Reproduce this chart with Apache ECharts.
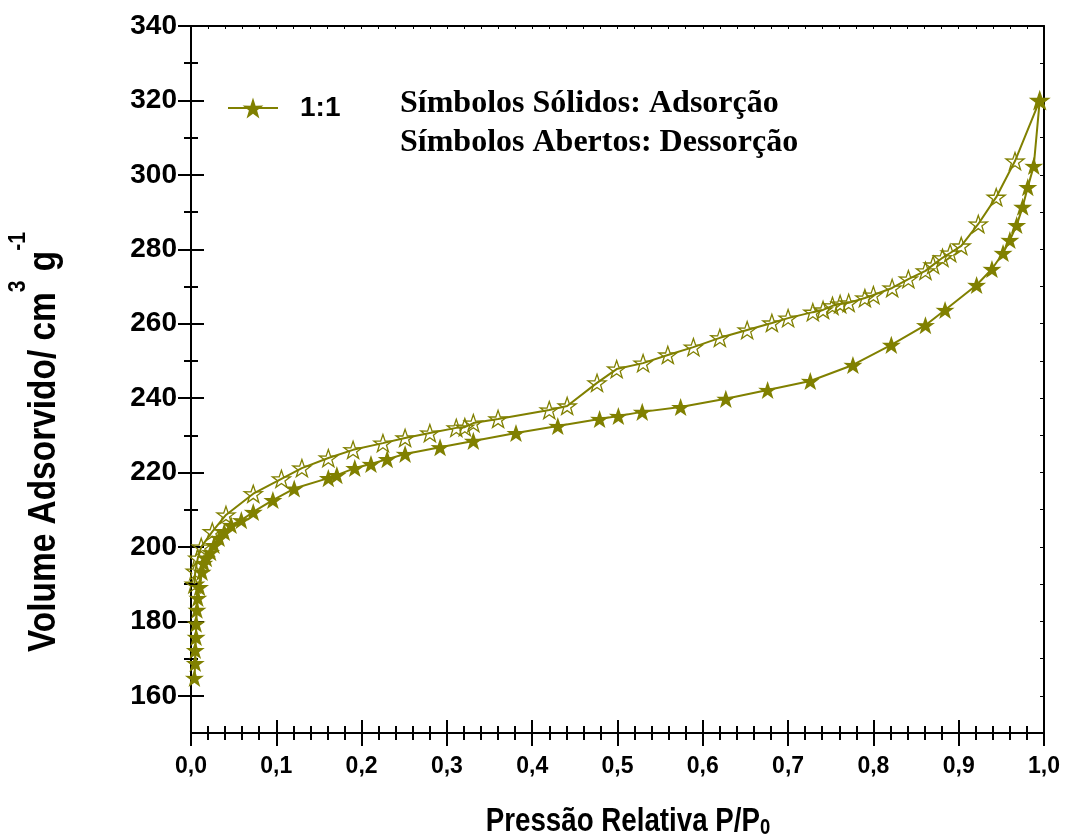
<!DOCTYPE html>
<html>
<head>
<meta charset="utf-8">
<script src="https://cdn.jsdelivr.net/npm/echarts@6/dist/echarts.min.js"></script>
<style>
  html, body { margin: 0; padding: 0; background: #fff; }
  #chart { width: 1066px; height: 837px; }
</style>
</head>
<body>
<div id="chart"></div>
<script>
// Adsorption branch (relative pressure P/P0, adsorbed volume cm3/g)
const adsP = [0.004, 0.005, 0.005, 0.006, 0.006, 0.007, 0.008, 0.010, 0.013, 0.015,
              0.018, 0.023, 0.027, 0.033, 0.039, 0.047, 0.059, 0.073, 0.096, 0.121,
              0.161, 0.171, 0.192, 0.211, 0.230, 0.251, 0.292, 0.331, 0.381, 0.430,
              0.479, 0.501, 0.529, 0.574, 0.627, 0.676, 0.726, 0.776, 0.821, 0.861,
              0.884, 0.921, 0.939, 0.952, 0.960, 0.968, 0.975, 0.981, 0.988, 0.995];
const adsV = [164.8, 168.8, 172.3, 175.8, 179.4, 183.1, 186.3, 189.2, 193.3, 195.7,
              197.0, 198.6, 200.5, 202.4, 204.0, 205.9, 207.2, 209.4, 212.6, 215.7,
              218.5, 219.3, 221.2, 222.3, 223.6, 225.0, 226.8, 228.5, 230.6, 232.5,
              234.4, 235.2, 236.3, 237.6, 239.8, 242.2, 244.6, 248.9, 254.3, 259.6,
              263.7, 270.4, 274.7, 279.0, 282.5, 286.5, 291.4, 296.7, 302.4, 320.0];

// Desorption branch, in measurement order (high to low pressure)
const desP = [0.995, 0.966, 0.944, 0.923, 0.903, 0.890, 0.881, 0.870, 0.861, 0.841,
              0.822, 0.800, 0.790, 0.771, 0.761, 0.752, 0.741, 0.729, 0.700, 0.681,
              0.652, 0.620, 0.589, 0.559, 0.530, 0.499, 0.476, 0.441, 0.420, 0.360,
              0.331, 0.321, 0.311, 0.280, 0.251, 0.225, 0.190, 0.161, 0.130, 0.106,
              0.073, 0.041, 0.025, 0.012, 0.008, 0.005, 0.004];
const desV = [320.0, 303.7, 294.0, 286.8, 280.9, 279.0, 277.7, 275.8, 274.2, 272.0,
              269.6, 267.7, 266.9, 265.6, 265.3, 264.8, 263.7, 263.1, 261.5, 260.2,
              258.3, 256.2, 253.7, 251.6, 249.4, 247.8, 244.1, 237.9, 236.8, 234.4,
              233.3, 232.2, 232.0, 230.6, 229.3, 227.9, 226.1, 223.9, 221.2, 218.3,
              214.3, 208.6, 204.1, 200.0, 197.0, 193.5, 190.0];

// Axis ticks
const yMajor = [160, 180, 200, 220, 240, 260, 280, 300, 320, 340];
const yMinor = yMajor.slice(0, -1).map(v => v + 10);
const Y_MIN = 150, Y_MAX = 340;

const OLIVE = '#808000';
const STAR = 'path://M50,0 L61.8,35.1 L97.6,34.5 L68.8,56.2 L79.4,90.5 L50,70 L20.6,90.5 L31.2,56.2 L2.4,34.5 L38.2,35.1 Z';
const SANS = '"Liberation Sans", Arial, sans-serif';
const SERIF = '"Liberation Serif", "Times New Roman", serif';

const zip = (a, b) => a.map((v, i) => [v, b[i]]);
const black = { color: '#000', width: 2 };

function xAxisBase(extra) {
  return Object.assign({
    type: 'value', min: 0, max: 1, interval: 0.1, gridIndex: 0,
    splitLine: { show: false },
    axisLine: { show: false, onZero: false, lineStyle: black },
    axisTick: { show: true, length: 13, lineStyle: black },
    minorTick: { show: true, splitNumber: 5, length: 7, lineStyle: black },
    axisLabel: { show: false }
  }, extra);
}
function yAxisBase(extra) {
  return Object.assign({
    type: 'value', min: Y_MIN, max: Y_MAX, gridIndex: 0,
    splitLine: { show: false },
    axisLine: { show: false, onZero: false, lineStyle: black },
    axisLabel: { show: false }
  }, extra);
}

const chart = echarts.init(document.getElementById('chart'), null, { renderer: 'canvas' });

chart.setOption({
  animation: false,
  backgroundColor: '#fff',
  grid: { left: 191, right: 22, top: 26, bottom: 104, containLabel: false, outerBoundsMode: 'none' },
  xAxis: [
    xAxisBase({
      position: 'bottom',
      axisLine: { show: true, onZero: false, lineStyle: black },
      axisLabel: {
        show: true, margin: 22, color: '#000', fontSize: 23, fontWeight: 'bold', fontFamily: SANS,
        formatter: v => v.toFixed(1).replace('.', ',')
      }
    }),
    xAxisBase({ position: 'bottom', axisTick: { show: true, inside: true, length: 13, lineStyle: black } }),
    xAxisBase({
      position: 'top',
      axisLine: { show: true, onZero: false, lineStyle: black },
      axisTick: { show: true, inside: true, length: 3, lineStyle: { color: '#000', width: 1 } },
      minorTick: { show: true, splitNumber: 5, length: 3, lineStyle: { color: '#000', width: 1 } }
    })
  ],
  yAxis: [
    yAxisBase({
      position: 'left',
      axisLine: { show: true, onZero: false, lineStyle: black },
      axisTick: { show: true, length: 13, customValues: yMajor, lineStyle: black },
      axisLabel: {
        show: true, margin: 14, customValues: yMajor, color: '#000',
        fontSize: 28, fontWeight: 'bold', fontFamily: SANS
      }
    }),
    yAxisBase({ position: 'left', axisTick: { show: true, inside: true, length: 13, customValues: yMajor, lineStyle: black } }),
    yAxisBase({ position: 'left', axisTick: { show: true, length: 7, customValues: yMinor, lineStyle: black } }),
    yAxisBase({ position: 'left', axisTick: { show: true, inside: true, length: 7, customValues: yMinor, lineStyle: black } }),
    yAxisBase({
      position: 'right', interval: 10,
      axisLine: { show: true, onZero: false, lineStyle: black },
      axisTick: { show: true, inside: true, length: 4, lineStyle: { color: '#000', width: 1 } }
    })
  ],
  legend: {
    data: ['1:1'],
    left: 222, top: 89,
    itemWidth: 50, itemHeight: 26,
    textStyle: { color: '#000', fontSize: 28, fontWeight: 'bold', fontFamily: SANS, padding: [0, 0, 0, 17] }
  },
  series: [
    {
      name: '1:1', type: 'line',
      data: zip(adsP, adsV),
      symbol: STAR, symbolSize: 19, symbolKeepAspect: true,
      itemStyle: { color: OLIVE },
      lineStyle: { color: OLIVE, width: 2 },
      z: 3
    },
    {
      name: 'Dessorção', type: 'line',
      data: zip(desP, desV),
      symbol: STAR, symbolSize: 18, symbolKeepAspect: true,
      itemStyle: { color: 'rgba(255,255,255,0)', borderColor: OLIVE, borderWidth: 1.3 },
      lineStyle: { color: OLIVE, width: 2 },
      z: 4
    }
  ],
  graphic: [
    {
      type: 'text', left: 400, top: 84,
      style: {
        text: 'Símbolos Sólidos: Adsorção\nSímbolos Abertos: Dessorção',
        font: 'bold 32px ' + SERIF, lineHeight: 39, fill: '#000'
      }
    },
    {
      // axis title, condensed horizontally
      type: 'text', x: 628, y: 822, scaleX: 0.84,
      style: {
        text: '{b|Pressão Relativa P/P}{s|0}',
        align: 'center', verticalAlign: 'middle',
        rich: {
          b: { fontSize: 33, fontWeight: 'bold', fontFamily: SANS, fill: '#000', verticalAlign: 'bottom' },
          s: { fontSize: 22, fontWeight: 'bold', fontFamily: SANS, fill: '#000', verticalAlign: 'bottom' }
        }
      }
    },
    {
      // rotated axis title with superscripts, condensed along the text
      type: 'text', x: 35, y: 442, rotation: Math.PI / 2, scaleX: 0.88,
      style: {
        text: '{b|Volume Adsorvido/ cm}{s|3}{b| g}{s|-1}',
        align: 'center', verticalAlign: 'middle',
        rich: {
          b: { fontSize: 38, fontWeight: 'bold', fontFamily: SANS, fill: '#000', lineHeight: 58, verticalAlign: 'bottom' },
          s: { fontSize: 24, fontWeight: 'bold', fontFamily: SANS, fill: '#000', lineHeight: 24, verticalAlign: 'top' }
        }
      }
    }
  ]
});
</script>
</body>
</html>
